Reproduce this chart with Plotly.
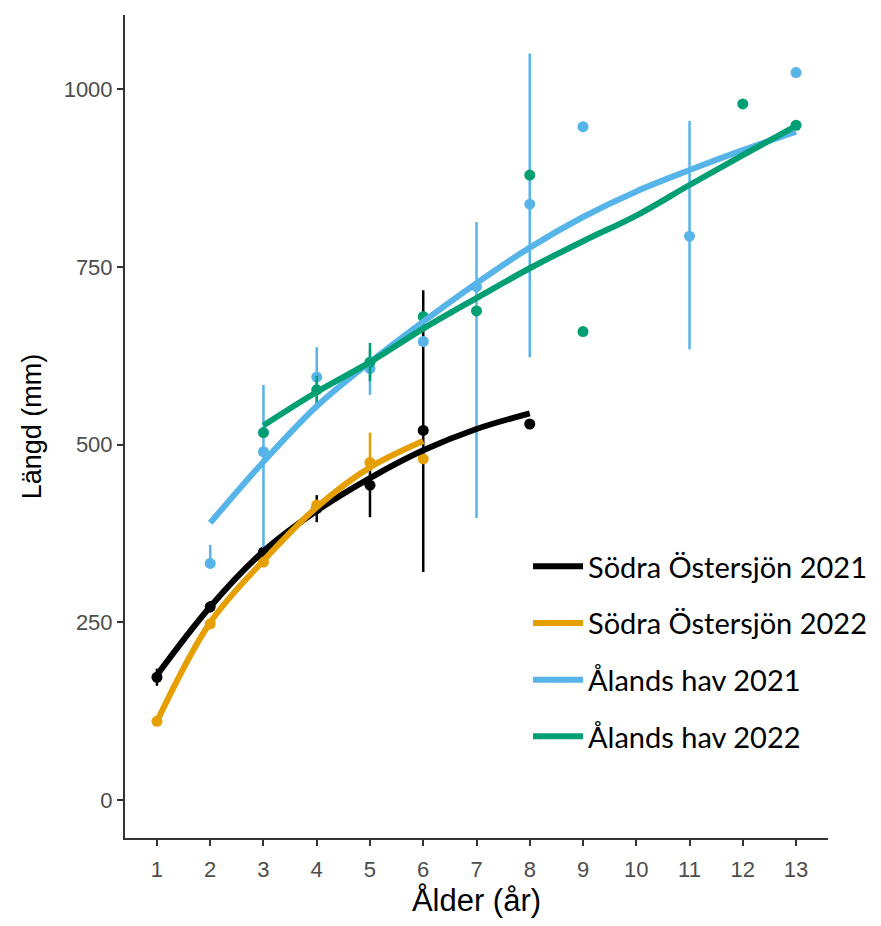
import plotly.graph_objects as go

# ---- data ----
series_names = ["Södra Östersjön 2021", "Södra Östersjön 2022", "Ålands hav 2021", "Ålands hav 2022"]
colors = ["#000000", "#E69F00", "#56B4E9", "#009E73"]

# observed mean lengths (points) with error bars
so21_age = [1, 2, 3, 4, 5, 6, 8]
so21_len = [173, 272, 349, 410, 443, 520, 529]
so21_up = [12, 8, 8, 19, 23, 197, 0]
so21_dn = [12, 8, 8, 19, 45, 199, 0]

so22_age = [1, 2, 3, 4, 5, 6]
so22_len = [111, 248, 335, 415, 475, 480]
so22_up = [0, 0, 0, 0, 42, 0]
so22_dn = [0, 0, 0, 0, 10, 0]

ah21_age = [2, 3, 4, 5, 6, 7, 8, 9, 11, 13]
ah21_len = [333, 490, 595, 607, 645, 722, 838, 947, 793, 1023]
ah21_up = [26, 94, 42, 26, 0, 91, 212, 0, 162, 0]
ah21_dn = [0, 141, 42, 37, 0, 325, 215, 0, 159, 0]

ah22_age = [3, 4, 5, 6, 7, 8, 9, 12, 13]
ah22_len = [517, 577, 616, 680, 688, 879, 659, 979, 949]
ah22_up = [0, 20, 27, 0, 0, 0, 0, 0, 0]
ah22_dn = [0, 20, 27, 0, 0, 0, 0, 0, 0]

# fitted growth curves
so21_fit_age = [1, 2, 3, 4, 5, 6, 7, 8]
so21_fit = [176, 272, 350, 407, 453, 492, 522, 544]
so22_fit_age = [1, 2, 3, 4, 5, 6]
so22_fit = [111, 250, 337, 412, 468, 505]
ah21_fit_age = [2, 3, 4, 5, 6, 7, 8, 9, 10, 11, 12, 13]
ah21_fit = [390, 476, 554, 616, 673, 727, 777, 820, 856, 886, 914, 940]
ah22_fit_age = [3, 4, 5, 6, 7, 8, 9, 10, 11, 12, 13]
ah22_fit = [527, 574, 616, 663, 706, 748, 786, 822, 865, 907, 948]

x_ticks = list(range(1, 14))
y_ticks = [0, 250, 500, 750, 1000]

points = [
    (so21_age, so21_len, so21_up, so21_dn),
    (so22_age, so22_len, so22_up, so22_dn),
    (ah21_age, ah21_len, ah21_up, ah21_dn),
    (ah22_age, ah22_len, ah22_up, ah22_dn),
]
fits = [
    (so21_fit_age, so21_fit),
    (so22_fit_age, so22_fit),
    (ah21_fit_age, ah21_fit),
    (ah22_fit_age, ah22_fit),
]

fig = go.Figure()

for i, (ax, ay, up, dn) in enumerate(points):
    fig.add_trace(go.Scatter(
        x=ax, y=ay, mode="markers",
        marker=dict(color=colors[i], size=11),
        error_y=dict(type="data", array=up, arrayminus=dn, symmetric=False,
                     color=colors[i], thickness=2.5, width=0),
        showlegend=False, hoverinfo="x+y",
    ))

for i, (fx, fy) in enumerate(fits):
    fig.add_trace(go.Scatter(
        x=fx, y=fy, mode="lines", name=series_names[i],
        line=dict(color=colors[i], width=6, shape="spline"),
        legendgroup=str(i),
    ))

tick_font = dict(family="Liberation Sans, Arial, sans-serif", size=22, color="#4d4d4d")
axis_common = dict(
    showgrid=False, zeroline=False, showline=True, linecolor="#333333", linewidth=2,
    ticks="outside", ticklen=6, tickwidth=2, tickcolor="#333333",
    tickfont=tick_font, mirror=False, automargin=False,
)

fig.update_xaxes(range=[0.4, 13.6], tickvals=x_ticks, ticklabelstandoff=5,
                 title=dict(text="Ålder (år)", font=dict(family="Liberation Sans, Arial, sans-serif", size=31, color="#000000"), standoff=8),
                 **axis_common)
fig.update_yaxes(range=[-53, 1104], tickvals=y_ticks,
                 title=dict(text="Längd (mm)", font=dict(family="Liberation Sans, Arial, sans-serif", size=27, color="#000000"), standoff=14),
                 **axis_common)

fig.update_layout(
    width=881, height=926,
    margin=dict(l=117, r=61, t=7, b=96),
    plot_bgcolor="white", paper_bgcolor="white",
    legend=dict(x=0.5733, y=0.361, xanchor="left", yanchor="top", itemwidth=50,
                font=dict(family="Lato, Noto Sans, sans-serif", size=29, color="#000000"),
                tracegroupgap=16, bgcolor="rgba(0,0,0,0)"),
)

fig.write_html("out.html")
